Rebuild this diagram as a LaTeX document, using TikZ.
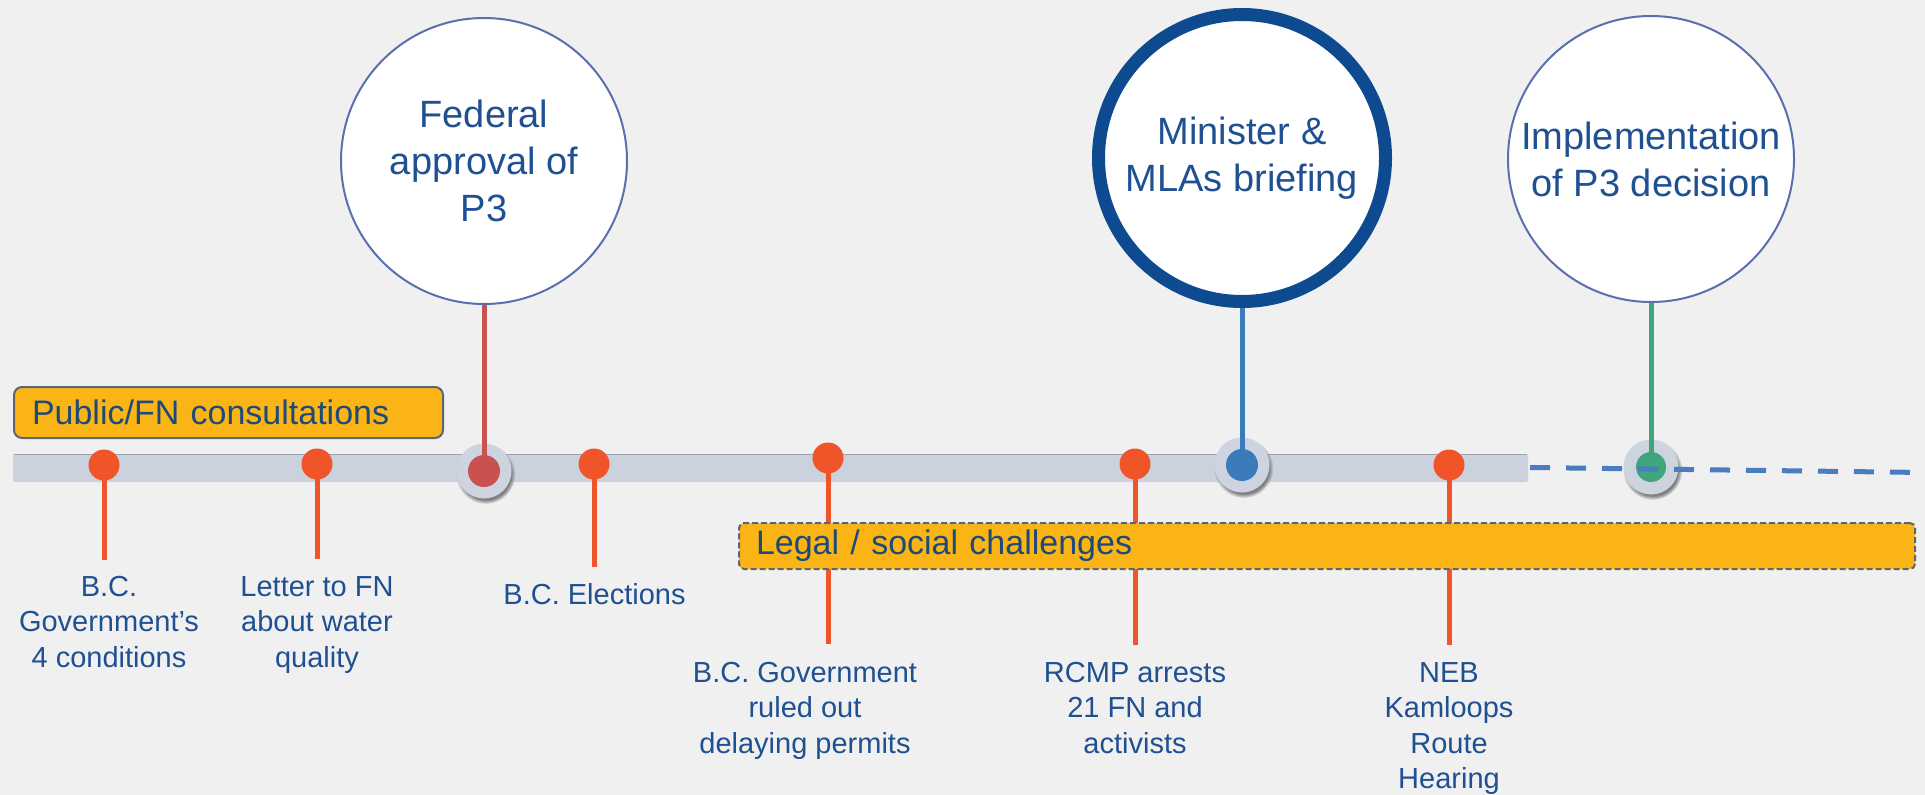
\documentclass[tikz,border=0pt]{standalone}
\usepackage{fontspec}
\setmainfont{Liberation Sans}
\usetikzlibrary{shadows}
\definecolor{bgc}{HTML}{F0F0F0}
\definecolor{barc}{HTML}{CBD2DD}
\definecolor{baredge}{HTML}{9AA2AE}
\definecolor{orangec}{HTML}{F0552A}
\definecolor{yellowc}{HTML}{FBB415}
\definecolor{boxborder}{HTML}{5C6670}
\definecolor{boxtext}{HTML}{1E4A78}
\definecolor{labc}{HTML}{1F5092}
\definecolor{fedred}{HTML}{C9514F}
\definecolor{minblue}{HTML}{3B7BBA}
\definecolor{minring}{HTML}{0D4A8F}
\definecolor{greenc}{HTML}{3FA57A}
\definecolor{haloc}{HTML}{CDD3DF}
\definecolor{dashc}{HTML}{4A7CC0}
\definecolor{thinring}{HTML}{5A6FAE}
\pgfdeclarelayer{back}
\pgfdeclarelayer{mid}
\pgfsetlayers{back,mid,main}
\begin{document}
\begin{tikzpicture}[x=1pt,y=-1pt,
  odot/.style={circle,fill=orangec,minimum size=31pt,inner sep=0pt},
  halo/.style={circle,fill=haloc,minimum size=55pt,inner sep=0pt,
    circular drop shadow={shadow xshift=1.5pt,shadow yshift=-3pt,shadow scale=1.08}},
  idot/.style={circle,minimum size=32pt,inner sep=0pt},
  ostem/.style={draw=orangec,line width=5pt},
  lab/.style={anchor=north,inner sep=0pt,align=center,text=labc,
    font=\fontsize{29pt}{35.5pt}\selectfont},
  bigc/.style={circle,fill=white,minimum size=286pt,inner sep=0pt,align=center,
    text=labc,font=\fontsize{38pt}{47pt}\selectfont},
  ybox/.style={fill=yellowc,draw=boxborder,line width=2pt,inner ysep=0pt,
    align=left,text=boxtext,font=\fontsize{34pt}{40pt}\selectfont,anchor=north west},
  dline/.style={draw=dashc,line width=5pt,dash pattern=on 20pt off 16pt}
]
\useasboundingbox (0,0) rectangle (1925,795);
\begin{pgfonlayer}{back}
  \fill[bgc] (0,0) rectangle (1925,795);
  \fill[barc,rounded corners=2pt] (13,454) rectangle (1528,482);
  \draw[baredge,line width=1pt] (14,454.5) -- (1527,454.5);
  \node[halo] (fh) at (484,471) {};
  \node[halo] (mh) at (1242,465) {};
  \node[halo] (gh) at (1651,467) {};
\end{pgfonlayer}

% big circles
\node[bigc,draw=thinring,line width=2pt] (fed) at (484,161) {Federal\\approval of\\P3};
\node[bigc,draw=minring,line width=13pt,minimum size=287pt] (min) at (1242,158) {Minister \&\\MLAs briefing};
\node[bigc,draw=thinring,line width=2pt] (imp) at (1651,159) {Implementation\\of P3 decision};

% key dots
\node[idot,fill=fedred] (fd) at (484,471) {};
\node[idot,fill=minblue] (md) at (1242,465) {};
\node[idot,fill=greenc,minimum size=30pt] (gd) at (1651,467) {};

% event dots
\node[odot] (d1) at (104,465) {};
\node[odot] (d2) at (317,464) {};
\node[odot] (d3) at (594,464) {};
\node[odot] (d4) at (828,458) {};
\node[odot] (d5) at (1135,464) {};
\node[odot] (d6) at (1449,465) {};
\coordinate (s1) at (104,560);
\coordinate (s2) at (317,559);
\coordinate (s3) at (594,567);
\coordinate (s4) at (828,644);
\coordinate (s5) at (1135,645);
\coordinate (s6) at (1449,645);

\begin{pgfonlayer}{mid}
  \draw[ostem] (d1.center) -- (s1);
  \draw[ostem] (d2.center) -- (s2);
  \draw[ostem] (d3.center) -- (s3);
  \draw[ostem] (d4.center) -- (s4);
  \draw[ostem] (d5.center) -- (s5);
  \draw[ostem] (d6.center) -- (s6);
  \draw[draw=fedred,line width=5pt] (fed.south) -- (fd.center);
  \draw[draw=minblue,line width=5pt] (min.south) -- (md.center);
  \draw[draw=greenc,line width=5pt] (imp.south) -- (gd.center);
\end{pgfonlayer}

% boxes
\node[ybox,rounded corners=8pt,minimum height=51pt,inner xsep=18pt,text width=393pt] (cons) at (13,386) {Public/FN consultations};
\node[ybox,rounded corners=5pt,dash pattern=on 6pt off 3pt,minimum height=46pt,inner xsep=17pt,text width=1142pt] (legal) at (738,522) {Legal / social challenges};

% labels
\node[lab] (l1) at (109,576) {B.C.\\Government’s\\4 conditions};
\node[lab] (l2) at (317,576) {Letter to FN\\about water\\quality};
\node[lab] (l3) at (594.5,583) {B.C. Elections};
\node[lab] (l4) at (805,662) {B.C. Government\\ruled out\\delaying permits};
\node[lab] (l5) at (1135,662) {RCMP arrests\\21 FN and\\activists};
\node[lab] (l6) at (1449,662) {NEB\\Kamloops\\Route\\Hearing};

% dashed continuation
\coordinate (dl1) at (1530,467.5);
\coordinate (dl2) at (1925,472.5);
\draw[dline] (dl1) -- (dl2);
\end{tikzpicture}
\end{document}
